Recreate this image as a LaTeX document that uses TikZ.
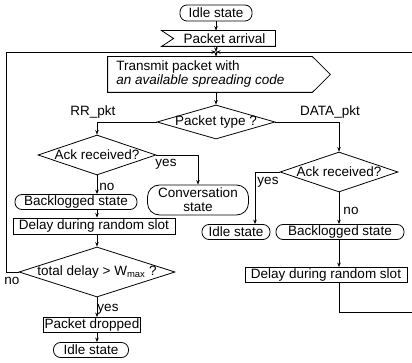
\documentclass[tikz,border=0pt]{standalone}
\usepackage{fontspec}
\setmainfont{Liberation Sans}
\usetikzlibrary{shapes.geometric,arrows.meta}
\begin{document}
\begin{tikzpicture}[x=1pt,y=-1pt,
  every node/.style={font=\fontsize{13.5}{14}\selectfont},
  line width=0.8pt,
  statebox/.style={draw, rounded corners=7pt, inner sep=0pt, minimum height=15pt},
  procbox/.style={draw, inner sep=0pt, minimum height=15pt},
  decision/.style={draw, diamond, inner sep=0pt},
  lbl/.style={inner sep=0pt},
  arr/.style={-{Stealth[length=4.5pt,width=3.5pt]}}]
\useasboundingbox (0,0) rectangle (412,363);
% top
\node[statebox, minimum width=72pt, minimum height=16pt] (idle1) at (216,13) {Idle state};
\node[inner sep=0pt, minimum width=113pt, minimum height=15pt] (pa) at (218.5,38.5) {\hspace{12pt}\makebox[0pt]{Packet arrival}};
\draw (pa.north west) -- (pa.north east) -- (pa.south east) -- (pa.south west) -- ([xshift=12pt]pa.west) -- cycle;
\coordinate (j) at (216,52);
\node[inner sep=0pt, minimum width=222pt, minimum height=35pt] (tx) at (219,74.5) {};
\draw (tx.north west) -- ([xshift=-18pt]tx.north east) -- (tx.east) -- ([xshift=-18pt]tx.south east) -- (tx.south west) -- cycle;
\node[lbl, anchor=west, align=left] (txt) at (116,74.5) {Transmit packet with\\\textit{an available spreading code}};
\node[decision, minimum width=118pt, minimum height=34pt] (pt) at (216,122) {\makebox[0pt]{Packet type ?}};
\node[lbl] (rr) at (93,112) {RR\_pkt};
\node[lbl] (dp) at (330,112) {DATA\_pkt};
% left branch
\node[decision, minimum width=118pt, minimum height=40pt] (ackL) at (97,155) {\makebox[0pt]{Ack received?}};
\node[statebox, rounded corners=12pt, minimum width=101pt, minimum height=30pt, align=center] (conv) at (198,200) {Conversation\\state};
\node[statebox, minimum width=122pt] (backL) at (76,202) {Backlogged state};
\node[procbox, minimum width=162pt, minimum height=16pt] (delL) at (94,226) {Delay during random slot};
\node[decision, minimum width=156pt, minimum height=50pt] (td) at (97,272) {\makebox[0pt]{total delay > W\textsubscript{max} ?}};
\node[procbox, minimum width=97pt] (pd) at (92,325) {Packet dropped};
\node[statebox, minimum width=75pt] (idle2) at (91,350) {Idle state};
\node[lbl] (yesL) at (166,164) {yes};
\node[lbl] (noL) at (107,187) {no};
\node[lbl] (noT) at (12,281) {no};
\node[lbl] (yesT) at (108,309) {yes};
% right branch
\node[decision, minimum width=118pt, minimum height=40pt] (ackR) at (339,172) {\makebox[0pt]{Ack received?}};
\node[statebox, minimum width=68pt] (idleR) at (236,232) {Idle state};
\node[statebox, minimum width=128pt] (backR) at (340,232) {Backlogged state};
\node[procbox, minimum width=162pt] (delR) at (326,275) {Delay during random slot};
\node[lbl] (yesR) at (268,182) {yes};
\node[lbl] (noR) at (351,211) {no};
\coordinate (lc) at (6,272);
\coordinate (re) at (412,312);
\coordinate (rt) at (412,52);
% connectors
\draw[arr] (idle1.south) -- (idle1.south |- pa.north);
\draw[arr] (pa.south -| j) -- (j);
\draw[arr] (j) -- (j |- tx.north);
\draw[arr] (pt |- tx.south) -- (pt.north);
\draw[arr] (pt.west) -| (ackL.north);
\draw[arr] (pt.east) -| (ackR.north);
\draw[arr] (ackL.east) -| (conv.north);
\draw[arr] (ackL.south) -- (ackL.south |- backL.north);
\draw[arr] (backL.south -| ackL) -- (delL.north -| ackL);
\draw[arr] (delL.south -| ackL) -- (td.north);
\draw[arr] (td.south) -- (td.south |- pd.north);
\draw[arr] (pd.south -| td) -- (idle2.north -| td);
\draw[arr] (td.west) -- (td.west -| lc) |- (j);
\draw[arr] (rt) -- (j);
\draw[arr] (ackR.west) -| ([xshift=19pt]idleR.north);
\draw[arr] (ackR.south) -- (ackR.south |- backR.north);
\draw[arr] (backR.south -| ackR) -- (delR.north -| ackR);
\draw (delR.south -| ackR) |- (re);
\end{tikzpicture}
\end{document}
